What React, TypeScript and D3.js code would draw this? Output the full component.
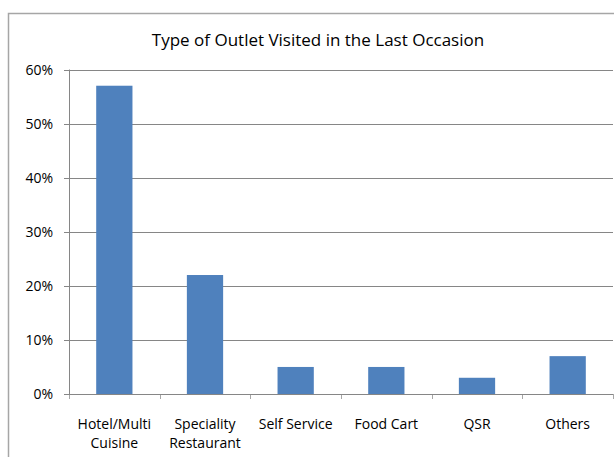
import React, { useEffect, useRef } from "react";
import * as d3 from "d3";

const title = "Type of Outlet Visited in the Last Occasion";
const categories = ["Hotel/Multi\nCuisine", "Speciality\nRestaurant", "Self Service", "Food Cart", "QSR", "Others"];
const values = [0.57, 0.22, 0.05, 0.05, 0.03, 0.07];
const yTicks = [0, 0.1, 0.2, 0.3, 0.4, 0.5, 0.6];

const W = 614;
const H = 457;
const FONT = "'Open Sans', 'Liberation Sans', sans-serif";

export default function App() {
  const ref = useRef<SVGSVGElement>(null);

  useEffect(() => {
    const svg = d3.select(ref.current);
    svg.selectAll("*").remove();

    const plot = { left: 69, right: 613, top: 69.5, bottom: 394 };

    const x = d3
      .scaleBand<string>()
      .domain(categories)
      .range([plot.left, plot.right])
      .paddingInner(0.6)
      .paddingOuter(0.3);

    const y = d3.scaleLinear().domain([0, 0.6]).range([plot.bottom, plot.top]);

    // outer chart frame
    svg
      .append("rect")
      .attr("x", 8.5)
      .attr("y", 13.5)
      .attr("width", W + 20)
      .attr("height", H + 20)
      .attr("fill", "#fff")
      .attr("stroke", "#a6a6a6")
      .attr("stroke-width", 1.5);

    svg
      .append("text")
      .attr("x", 318)
      .attr("y", 46)
      .attr("text-anchor", "middle")
      .attr("font-family", FONT)
      .attr("font-size", 17)
      .attr("fill", "#000")
      .text(title);

    // horizontal gridlines with short ticks left of the axis
    const grid = svg.append("g");
    grid
      .selectAll("line")
      .data(yTicks)
      .join("line")
      .attr("x1", plot.left - 5)
      .attr("x2", plot.right)
      .attr("y1", (d) => Math.round(y(d)) + 0.5)
      .attr("y2", (d) => Math.round(y(d)) + 0.5)
      .attr("stroke", "#868686")
      .attr("stroke-width", 1);

    grid
      .selectAll("text")
      .data(yTicks)
      .join("text")
      .attr("x", 53)
      .attr("y", (d) => y(d))
      .attr("dy", "0.36em")
      .attr("text-anchor", "end")
      .attr("font-family", FONT)
      .attr("font-size", 14)
      .attr("fill", "#000")
      .text((d) => d3.format(".0%")(d));

    // vertical axis line
    svg
      .append("line")
      .attr("x1", plot.left + 0.5)
      .attr("x2", plot.left + 0.5)
      .attr("y1", plot.top)
      .attr("y2", plot.bottom)
      .attr("stroke", "#868686");

    // category boundary ticks below the baseline
    const step = x.step();
    const bounds = d3.range(categories.length + 1).map((i) => plot.left + i * step);
    svg
      .append("g")
      .selectAll("line")
      .data(bounds)
      .join("line")
      .attr("x1", (d) => Math.round(d) + 0.5)
      .attr("x2", (d) => Math.round(d) + 0.5)
      .attr("y1", plot.bottom)
      .attr("y2", plot.bottom + 5)
      .attr("stroke", "#a6a6a6");

    // bars
    svg
      .append("g")
      .selectAll("rect")
      .data(values)
      .join("rect")
      .attr("x", (_, i) => x(categories[i])!)
      .attr("y", (d) => y(d))
      .attr("width", x.bandwidth())
      .attr("height", (d) => y(0) - y(d))
      .attr("fill", "#4F81BD");

    // baseline drawn over bars
    svg
      .append("line")
      .attr("x1", plot.left - 5)
      .attr("x2", plot.right)
      .attr("y1", Math.round(plot.bottom) + 0.5)
      .attr("y2", Math.round(plot.bottom) + 0.5)
      .attr("stroke", "#868686");

    // category labels, one text element per line
    const labelLines = categories.flatMap((c) =>
      c.split("\n").map((line, i) => ({ c, line, i }))
    );
    svg
      .append("g")
      .selectAll("text")
      .data(labelLines)
      .join("text")
      .attr("x", (d) => x(d.c)! + x.bandwidth() / 2)
      .attr("y", (d) => 429 + d.i * 19)
      .attr("text-anchor", "middle")
      .attr("font-family", FONT)
      .attr("font-size", 14)
      .attr("fill", "#000")
      .text((d) => d.line);
  }, []);

  return (
    <svg
      ref={ref}
      width={W}
      height={H}
      style={{ position: "absolute", left: 0, top: 0, display: "block", background: "#fff" }}
    />
  );
}
